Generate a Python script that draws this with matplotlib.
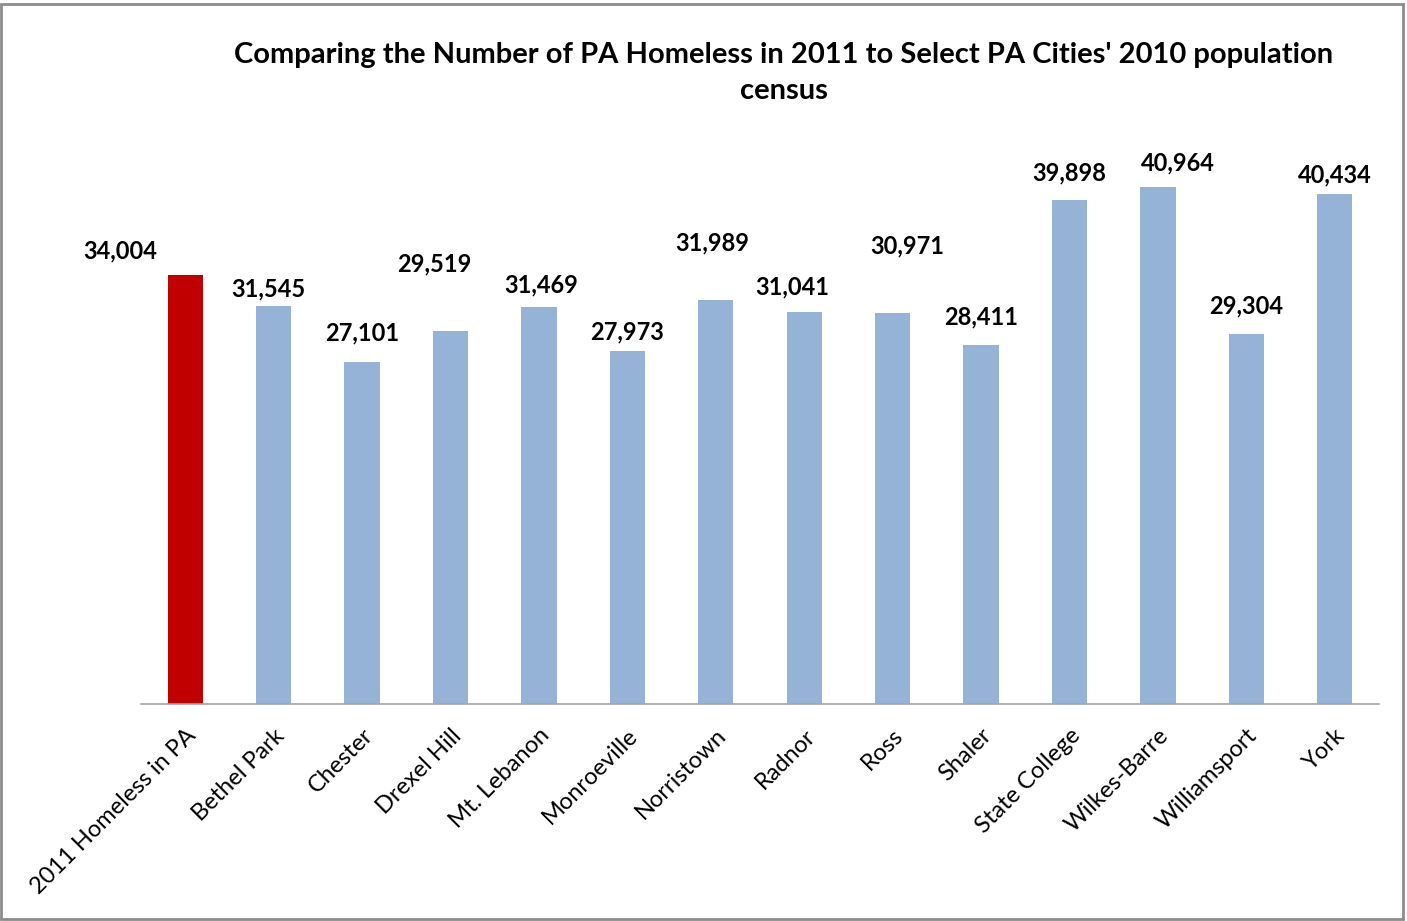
import matplotlib.pyplot as plt
from matplotlib.patches import Rectangle

categories = ['2011 Homeless in PA', 'Bethel Park', 'Chester', 'Drexel Hill', 'Mt. Lebanon',
              'Monroeville', 'Norristown', 'Radnor', 'Ross', 'Shaler', 'State College',
              'Wilkes-Barre', 'Williamsport', 'York']
values = [34004, 31545, 27101, 29519, 31469, 27973, 31989, 31041, 30971, 28411,
          39898, 40964, 29304, 40434]

# where Excel left each data label, in pixels from the top of its bar
label_dx = [-65, -5, 0, -16, 2, 0, -4, -12, 15, 0, 0, 20, 0, 0]
label_dy = [24, 17, 29, 68, 22, 19, 57, 25, 67, 28, 28, 24, 28, 19]

plt.rcParams['font.family'] = ['Lato', 'DejaVu Sans']

fig = plt.figure(figsize=(14.07, 9.21), dpi=100)
ax = fig.add_axes([0.1002, 0.2356, 0.8799, 0.6167])

colors = ['#C00000'] + ['#95B3D7'] * (len(values) - 1)
x = list(range(len(values)))
ax.bar(x, values, width=0.4, color=colors)

for i, v in enumerate(values):
    ax.annotate(f'{v:,}', (i, v), xytext=(label_dx[i], label_dy[i]), textcoords='offset pixels',
                ha='center', va='center', fontsize=17, fontweight='bold')

ax.set_xlim(-0.5, len(values) - 0.5)
ax.set_ylim(0, 45000)
ax.set_xticks(x)
ax.set_xticklabels(categories, rotation=45, ha='right', va='top', rotation_mode='anchor', fontsize=17)
ax.tick_params(axis='x', length=0, pad=15)
ax.set_yticks([])
for s in ['top', 'right', 'left']:
    ax.spines[s].set_visible(False)
ax.spines['bottom'].set_color('#A6A6A6')
ax.spines['bottom'].set_linewidth(1.2)

fig.text(0.557, 0.921, "Comparing the Number of PA Homeless in 2011 to Select PA Cities' 2010 population\ncensus",
         ha='center', va='center', fontsize=21, fontweight='bold', linespacing=1.5)

fig.patches.append(Rectangle((0.001, 0.002), 0.996, 0.994, transform=fig.transFigure,
                             fill=False, edgecolor='#8C8C8C', linewidth=2))

fig.savefig('out.png', dpi=100)
